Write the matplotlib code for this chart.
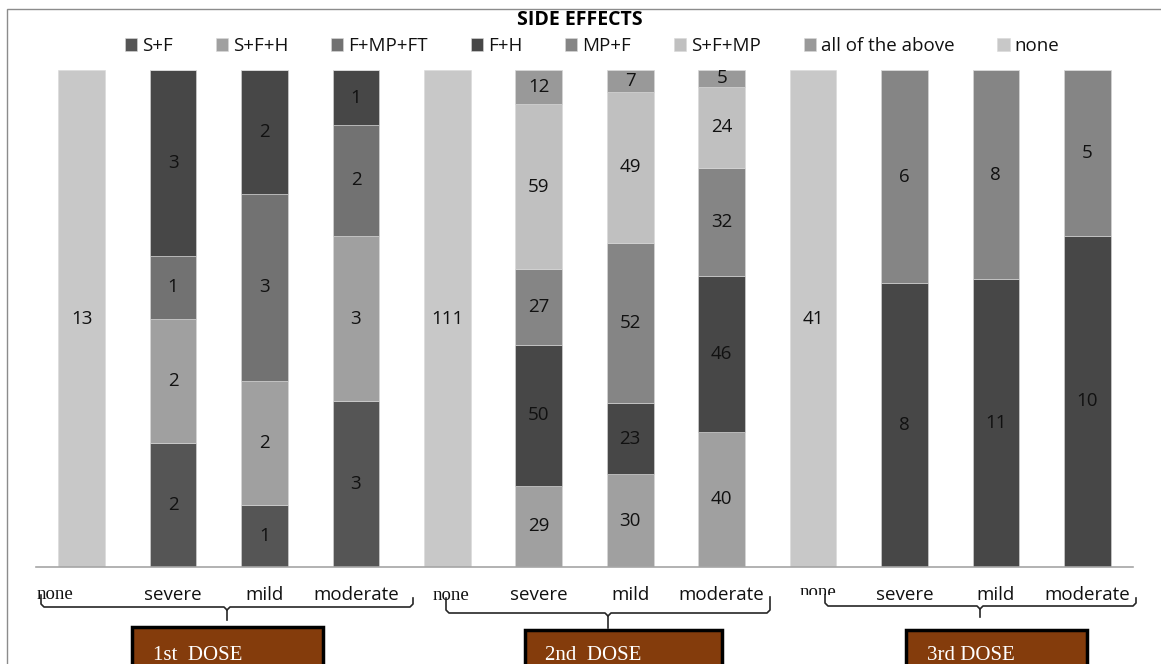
import numpy as np
import matplotlib.pyplot as plt
from matplotlib.patches import Rectangle
from matplotlib.lines import Line2D
from matplotlib.transforms import Bbox

plt.rcParams['font.family'] = ['Open Sans', 'DejaVu Sans']

W, H = 1161, 664

# bars: 1st dose, 2nd dose, 3rd dose (none, severe, mild, moderate each)
categories = ['none', 'severe', 'mild', 'moderate'] * 3
doses = ['1st  DOSE', '2nd  DOSE', '3rd DOSE']

series_names = ['S+F', 'S+F+H', 'F+MP+FT', 'F+H', 'MP+F', 'S+F+MP', 'all of the above', 'none']
s_f       = [0, 2, 1, 3,   0, 0, 0, 0,     0, 0, 0, 0]
s_f_h     = [0, 2, 2, 3,   0, 29, 30, 40,  0, 0, 0, 0]
f_mp_ft   = [0, 1, 3, 2,   0, 0, 0, 0,     0, 0, 0, 0]
f_h       = [0, 3, 2, 1,   0, 50, 23, 46,  0, 8, 11, 10]
mp_f      = [0, 0, 0, 0,   0, 27, 52, 32,  0, 6, 8, 5]
s_f_mp    = [0, 0, 0, 0,   0, 59, 49, 24,  0, 0, 0, 0]
all_above = [0, 0, 0, 0,   0, 12, 7, 5,    0, 0, 0, 0]
none      = [13, 0, 0, 0,  111, 0, 0, 0,   41, 0, 0, 0]

colors = ['#555555', '#a0a0a0', '#727272', '#474747', '#858585', '#c0c0c0', '#999999', '#c8c8c8']

def px(x, y):
    # pixel (from top-left) -> figure fraction
    return x / W, 1 - y / H

fig = plt.figure(figsize=(W / 100, H / 100), dpi=100)
ax = fig.add_axes([36 / W, (H - 567) / H, 1097 / W, 497 / H])

data = np.array([s_f, s_f_h, f_mp_ft, f_h, mp_f, s_f_mp, all_above, none], dtype=float)
totals = data.sum(axis=0)
pct = data / totals * 100
x = np.arange(len(categories))
bottom = np.zeros(len(categories))
for i, name in enumerate(series_names):
    bars = ax.bar(x, pct[i], 0.51, bottom=bottom, color=colors[i], label=name,
                  edgecolor='#d9d9d9', linewidth=0.4)
    for j, b in enumerate(bars):
        if data[i, j] > 0:
            ax.text(b.get_x() + b.get_width() / 2, bottom[j] + pct[i, j] / 2,
                    '%d' % data[i, j], ha='center', va='center', fontsize=13.5, color='#111111')
    bottom += pct[i]

ax.set_xlim(-0.5, 11.5)
ax.set_ylim(0, 100)
ax.set_yticks([])
for s in ['top', 'left', 'right']:
    ax.spines[s].set_visible(False)
ax.spines['bottom'].set_color('#a6a6a6')
ax.spines['bottom'].set_linewidth(1.2)

tick_pos = [i for i, c in enumerate(categories) if c != 'none']
ax.set_xticks(tick_pos)
ax.set_xticklabels([categories[i] for i in tick_pos], fontsize=13.5, color='#111111')
ax.tick_params(axis='x', length=0, pad=14)

# small "none" labels, partly clipped as in the original
none_spots = [(37, 599, 587, 601), (433, 600, 589, 602), (800, 597, 585, 595)]
for xx, yy, top, bot in none_spots:
    t = fig.text(*px(xx, yy), 'none', fontsize=13.5, family='Liberation Serif',
                 ha='left', va='baseline', color='#111111')
    t.set_clip_box(Bbox.from_extents(0, H - bot, W, H - top))
    t.set_clip_on(True)

# braces under each group
braces = [(41, 413, 227, 607, 595, 598, 620),
          (446, 770, 608, 613, 598, 597, 628),
          (825, 1136, 980, 606, 595, 598, 617)]
for xl, xr, xc, yh, ytl, ytr, ycusp in braces:
    pts = [(xl, ytl), (xl, yh - 3), (xl + 3, yh), (xc - 3, yh), (xc, yh + 3), (xc, ycusp)]
    fig.add_artist(Line2D(*zip(*[px(a, b) for a, b in pts]), color='#262626', lw=1.2))
    pts = [(xc, yh + 3), (xc + 3, yh), (xr - 3, yh), (xr, yh - 3), (xr, ytr)]
    fig.add_artist(Line2D(*zip(*[px(a, b) for a, b in pts]), color='#262626', lw=1.2))

# brown dose boxes
boxes = [(132, 323, 627, 153), (525, 722, 630, 545), (906, 1087, 630, 927)]
for (xl, xr, yt, xt), label in zip(boxes, doses):
    x0, y0 = px(xl, yt + 50)
    fig.add_artist(Rectangle((x0, y0), (xr - xl) / W, 50 / H, facecolor='#843c0c',
                             edgecolor='black', lw=2.5))
    fig.text(*px(xt, 660), label, fontsize=15, family='Liberation Serif',
             color='white', ha='left', va='baseline')

# outer frame
fig.add_artist(Rectangle(px(7, 680), 1200 / W, 671 / H, fill=False, edgecolor='#8c8c8c', lw=1))

fig.text(*px(580, 20), 'SIDE EFFECTS', fontsize=14, fontweight='bold', ha='center', va='center')
fig.legend(loc='center', bbox_to_anchor=px(592, 46), ncol=8, frameon=False, fontsize=13.5,
           handlelength=0.65, handleheight=0.65, handletextpad=0.25, columnspacing=2.3,
           borderpad=0, labelcolor='#111111')

fig.savefig('out.png', dpi=100)
